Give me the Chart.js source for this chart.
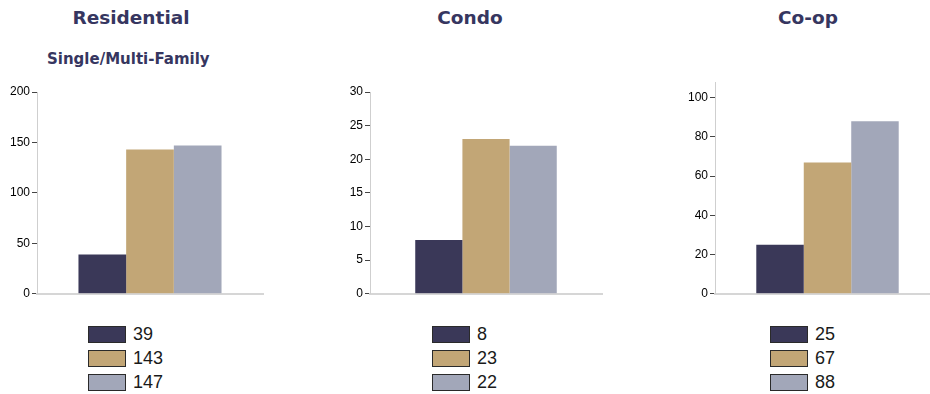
<!DOCTYPE html>
<html>
<head>
<meta charset="utf-8">
<script src="https://cdn.jsdelivr.net/npm/chart.js@4/dist/chart.umd.min.js"></script>
<style>
    html, body { margin: 0; padding: 0; background: #fff; overflow: hidden; width: 930px; height: 394px; }
    .box { position: absolute; }
    .title { position: absolute; font: bold 18.5px "DejaVu Sans", sans-serif; color: #363660; white-space: nowrap; transform: translateX(-50%); }
    .sub { position: absolute; font: bold 15px "DejaVu Sans", sans-serif; color: #363660; white-space: nowrap; }
    .legend { position: absolute; }
    .legend .row { height: 24px; display: flex; align-items: center; }
    .legend .sw { width: 36px; height: 15px; border: 1.5px solid #2a2a2a; margin-right: 7px; }
    .legend span { font: 18px "Liberation Sans", Arial, sans-serif; color: #1a1a1a; }
</style>
</head>
<body>
<div class="title" style="left:131px; top:7px;">Residential</div>
<div class="sub" style="left:47px; top:50px;">Single/Multi-Family</div>
<div class="title" style="left:470px; top:7px;">Condo</div>
<div class="title" style="left:808px; top:7px;">Co-op</div>

<div class="box" style="left:0px; top:72px; width:270px; height:231px;"><canvas id="c1"></canvas></div>
<div class="box" style="left:330px; top:72px; width:280px; height:231px;"><canvas id="c2"></canvas></div>
<div class="box" style="left:675px; top:62px; width:275px; height:241px;"><canvas id="c3"></canvas></div>

<div class="legend" id="lg1" style="left:88px; top:322px;"></div>
<div class="legend" id="lg2" style="left:432px; top:322px;"></div>
<div class="legend" id="lg3" style="left:770px; top:322px;"></div>

<script>
// -------------------------------
// Daten
// -------------------------------
const seriesColors = ["#3a3858", "#c2a676", "#a2a7b9"];

const residential = [39, 143, 147];
const condo = [8, 23, 22];
const coop = [25, 67, 88];

const resTicks = { max: 200, step: 50 };
const condoTicks = { max: 30, step: 5 };
const coopTicks = { max: 108, step: 20 };

// -------------------------------
// Chart bauen
// -------------------------------
function makeChart(id, values, ticks, yWidth, padRight, catPct) {
    new Chart(document.getElementById(id), {
        type: "bar",
        data: {
            labels: [""],
            datasets: values.map((v, i) => ({
                data: [v],
                backgroundColor: seriesColors[i],
                borderWidth: 0,
                barPercentage: 1,
                categoryPercentage: catPct
            }))
        },
        options: {
            responsive: true,
            maintainAspectRatio: false,
            animation: false,
            layout: { padding: { top: 20, right: padRight, bottom: 0, left: 0 } },
            plugins: { legend: { display: false }, tooltip: { enabled: false } },
            scales: {
                x: {
                    grid: { display: false },
                    ticks: { display: false },
                    border: { color: "#d6d6d6", width: 2 },
                    afterFit: s => { s.height = 7; }
                },
                y: {
                    min: 0,
                    max: ticks.max,
                    ticks: {
                        stepSize: ticks.step,
                        includeBounds: false,
                        color: "#000",
                        padding: 2,
                        font: { family: "Liberation Sans", size: 12 }
                    },
                    grid: { drawOnChartArea: false, tickLength: 5, color: "#444" },
                    border: { color: "#cfcfcf", width: 1 },
                    afterFit: s => { s.width = yWidth; }
                }
            }
        }
    });
}

// -------------------------------
// Legende
// -------------------------------
function makeLegend(id, values) {
    let html = "";
    values.forEach((v, i) => {
        html += `<div class="row"><div class="sw" style="background:${seriesColors[i]}"></div><span>${v}</span></div>`;
    });
    document.getElementById(id).innerHTML = html;
}

makeChart("c1", residential, resTicks, 37, 7, 0.633);
makeChart("c2", condo, condoTicks, 40, 8, 0.61);
makeChart("c3", coop, coopTicks, 40, 10, 0.633);

makeLegend("lg1", residential);
makeLegend("lg2", condo);
makeLegend("lg3", coop);
</script>
</body>
</html>
